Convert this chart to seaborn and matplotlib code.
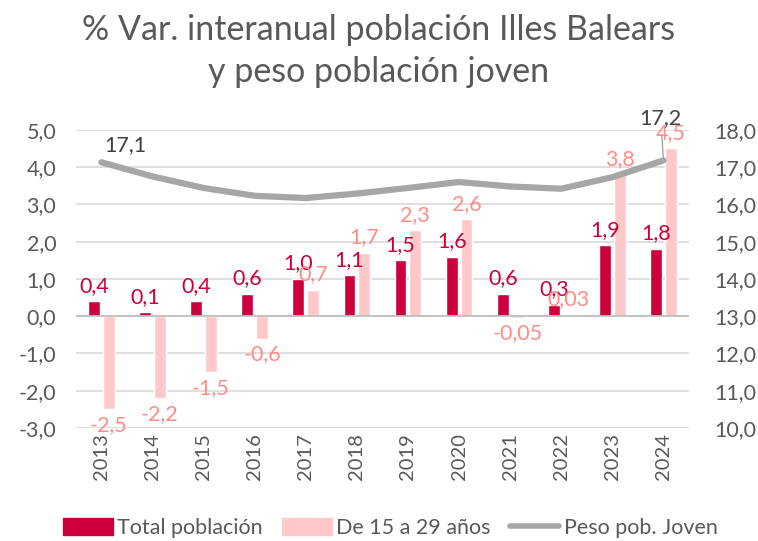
import numpy as np
import pandas as pd
import seaborn as sns
import matplotlib.pyplot as plt
from matplotlib.patches import Patch
from matplotlib.lines import Line2D

years = ["2013", "2014", "2015", "2016", "2017", "2018",
         "2019", "2020", "2021", "2022", "2023", "2024"]
total_pob = [0.4, 0.1, 0.4, 0.6, 1.0, 1.1, 1.5, 1.6, 0.6, 0.3, 1.9, 1.8]
jovenes = [-2.5, -2.2, -1.5, -0.6, 0.7, 1.7, 2.3, 2.6, -0.05, 0.03, 3.8, 4.5]
peso_joven = [17.13, 16.75, 16.44, 16.23, 16.17, 16.29,
              16.44, 16.60, 16.48, 16.42, 16.73, 17.18]

series_names = ["Total población", "De 15 a 29 años"]
line_name = "Peso pob. Joven"

RED = "#CC003D"
PINK = "#FFC9C9"
SALMON = "#FF8C85"
GREY = "#A6A6A6"
TXT = "#595959"


def fmt(v):
    # labels of tiny values keep two decimals, like the source
    s = f"{v:.2f}" if 0 < abs(v) < 0.1 else f"{v:.1f}"
    return s.replace(".", ",")


sns.set_theme(style="white")
plt.rcParams["font.family"] = ["Lato", "DejaVu Sans"]

df = pd.DataFrame({
    "year": years * 2,
    "valor": total_pob + jovenes,
    "serie": [series_names[0]] * len(years) + [series_names[1]] * len(years),
})

fig = plt.figure(figsize=(7.58, 5.41), dpi=100)
ax = fig.add_axes([0.100, 0.209, 0.809, 0.551])

sns.barplot(data=df, x="year", y="valor", hue="serie", order=years,
            hue_order=series_names, palette=[RED, PINK], saturation=1,
            width=0.58, gap=0.2, legend=False, ax=ax)

ax.set_ylim(-3, 5)
ax.set_xlim(-0.5, len(years) - 0.5)
ax.set_yticks(np.arange(-3, 6, 1))
ax.set_yticklabels([fmt(v) for v in np.arange(-3, 6, 1.0)], fontsize=15.5, color=TXT)
ax.set_xticks(range(len(years)))
ax.set_xticklabels(years, rotation=90, fontsize=14.5, color=TXT)
ax.tick_params(axis="both", length=0, pad=4)
ax.tick_params(axis="y", pad=14)
ax.set_xlabel("")
ax.set_ylabel("")
ax.grid(axis="y", color="#D9D9D9", linewidth=1.2)
ax.set_axisbelow(True)
ax.axhline(0, color="#BFBFBF", linewidth=1.3, zorder=1)
for sp in ax.spines.values():
    sp.set_visible(False)

# data labels
ax.bar_label(ax.containers[0], labels=[fmt(v) for v in total_pob],
             padding=4, fontsize=15.5, color=RED, clip_on=False)
ax.bar_label(ax.containers[1], labels=[fmt(v) for v in jovenes],
             padding=4, fontsize=15.5, color=SALMON, clip_on=False)

# weight line on secondary axis
ax2 = ax.twinx()
sns.lineplot(x=range(len(years)), y=peso_joven, color=GREY, linewidth=4.5,
             ax=ax2, legend=False)
ax2.set_ylim(10, 18)
ax2.set_yticks(np.arange(10, 19, 1))
ax2.set_yticklabels([fmt(v) for v in np.arange(10, 19, 1.0)], fontsize=15.5, color=TXT)
ax2.tick_params(axis="y", length=0, pad=18)
ax2.set_ylabel("")
for sp in ax2.spines.values():
    sp.set_visible(False)
ax2.set_xlim(-0.5, len(years) - 0.5)

ax2.annotate(fmt(round(peso_joven[0], 1)), (0, peso_joven[0]), xytext=(2, 8),
             textcoords="offset points", fontsize=15.5, color="#404040")
ax2.annotate(fmt(round(peso_joven[-1], 1)), (len(years) - 1, peso_joven[-1]),
             xytext=(-2, 26), textcoords="offset points", fontsize=15.5,
             color="#404040", ha="center", annotation_clip=False,
             arrowprops=dict(arrowstyle="-", color=GREY, lw=1))

fig.suptitle("% Var. interanual población Illes Balears\ny peso población joven",
             fontsize=24.5, color=TXT, y=0.975, linespacing=1.4)

handles = [Patch(color=RED), Patch(color=PINK), Line2D([], [], color=GREY, lw=4)]
fig.legend(handles, series_names + [line_name], loc="lower center",
           bbox_to_anchor=(0.515, -0.03), ncol=3, frameon=False, fontsize=15.5,
           labelcolor=TXT, handlelength=2.3, handleheight=0.8,
           columnspacing=0.9, handletextpad=0.2)

fig.savefig("out.png", dpi=100)
